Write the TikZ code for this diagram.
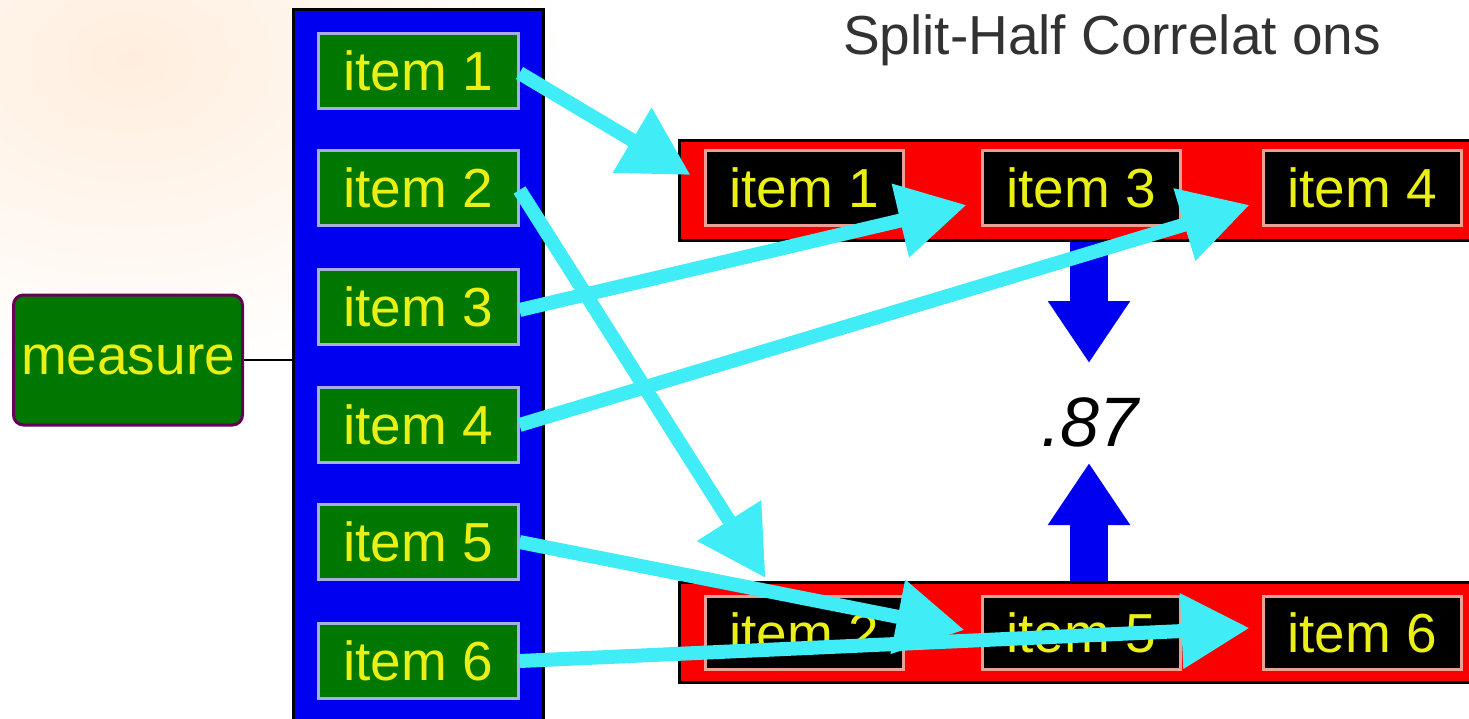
\documentclass[tikz,border=0pt]{standalone}
\usepackage{fontspec}
\setmainfont{Liberation Sans}
\usetikzlibrary{arrows.meta,calc}
\definecolor{itemgreen}{RGB}{0,120,0}
\definecolor{colblue}{RGB}{0,0,240}
\definecolor{barred}{RGB}{250,0,0}
\definecolor{txtyellow}{RGB}{235,240,20}
\definecolor{gborder}{RGB}{165,175,225}
\definecolor{bborder}{RGB}{235,160,150}
\definecolor{cyanarrow}{RGB}{64,236,245}
\definecolor{measborder}{RGB}{100,0,90}
\definecolor{glow}{RGB}{255,238,222}
\definecolor{titlegray}{RGB}{50,50,50}
\begin{document}
\begin{tikzpicture}[x=1pt,y=-1pt,
  itemfont/.style={font=\fontsize{55}{60}\selectfont},
  gitem/.style={itemfont, rectangle, fill=itemgreen, draw=gborder, line width=3pt,
    minimum width=200pt, minimum height=75pt, inner sep=0pt, text=txtyellow},
  bitem/.style={itemfont, rectangle, fill=black, draw=bborder, line width=3pt,
    minimum width=198pt, minimum height=75pt, inner sep=0pt, text=txtyellow},
  bar/.style={rectangle, fill=barred, draw=black, line width=3pt, inner sep=0pt},
  cyarrow/.style={draw=cyanarrow, line width=14pt,
    -{Triangle[length=68pt,width=72pt]}},
  bluearrow/.style={draw=colblue, line width=38pt,
    -{Triangle[length=62pt,width=78pt]}}
]
\useasboundingbox (0,0) rectangle (1469,718);
\fill[white] (0,0) rectangle (1469,718);
\begin{scope}
\clip (0,0) rectangle (1469,718);
\shade[inner color=glow, outer color=white] (130,60) ellipse (440 and 320);
\end{scope}

% title
\node[itemfont, text=titlegray, anchor=center] (title) at (1112,40) {Split-Half Correlat ons};

% blue column
\node[rectangle, fill=colblue, draw=black, line width=3pt, inner sep=0pt,
  minimum width=250pt, minimum height=715pt] (col) at (418,367) {};

% measure
\node[itemfont, rectangle, rounded corners=10pt, fill=itemgreen, draw=measborder,
  line width=3pt, minimum width=229pt, minimum height=130pt, inner sep=0pt,
  text=txtyellow] (measure) at (128,360) {measure};
\draw[black, line width=2pt] (measure.east) -- (measure.east -| col.west);

% left items
\node[gitem] (l1) at (418,71) {item 1};
\node[gitem] (l2) at (418,188) {item 2};
\node[gitem] (l3) at (418,307) {item 3};
\node[gitem] (l4) at (418,425) {item 4};
\node[gitem] (l5) at (418,542) {item 5};
\node[gitem] (l6) at (418,661) {item 6};

% red bars
\node[bar, minimum width=800pt, minimum height=100pt] (topbar) at (1079,190) {};
\node[bar, minimum width=800pt, minimum height=100pt] (botbar) at (1079,632) {};

% top items
\node[bitem] (t1) at (804,188) {item 1};
\node[bitem] (t3) at (1081,188) {item 3};
\node[bitem] (t4) at (1362,188) {item 4};
% bottom items
\node[bitem, minimum height=73pt] (b2) at (804,633) {item 2};
\node[bitem, minimum height=73pt] (b5) at (1081,633) {item 5};
\node[bitem, minimum height=73pt] (b6) at (1362,633) {item 6};

% correlation
\node[font=\fontsize{70}{80}\selectfont\itshape, text=black] (r) at (1090,422) {.87};

% blue block arrows
\draw[bluearrow] ($(r.center |- topbar.south)+(-1,0)$) -- ($(r.center)+(-1,-59)$);
\draw[bluearrow] ($(r.center |- botbar.north)+(-1,0)$) -- ($(r.center)+(-1,41)$);

% cyan arrows
\draw[cyarrow] ($(l1.east)+(0,2)$) -- ($(t1.west)+(-13,-13)$);
\draw[cyarrow] ($(l2.east)+(0,2)$) -- ($(b2.north west)+(62,-17)$);
\draw[cyarrow] ($(l3.east)+(0,3)$) -- ($(t3.west)+(-14,17)$);
\draw[cyarrow] (l4.east) -- ($(t4.west)+(-12,17)$);
\draw[cyarrow] (l5.east) -- ($(b5.west)+(-16,-3)$);
\draw[cyarrow] (l6.east) -- ($(b6.west)+(-12,-5)$);
\end{tikzpicture}
\end{document}
